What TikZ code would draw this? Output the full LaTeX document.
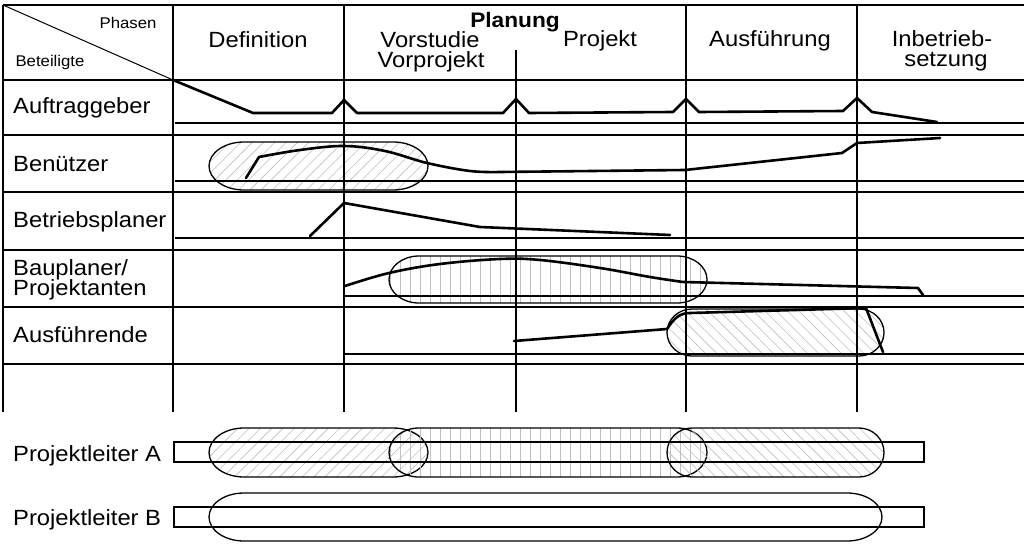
\documentclass[tikz,border=0pt]{standalone}
\usepackage{fontspec}
\setmainfont[FakeStretch=1.08]{Liberation Sans}
\usetikzlibrary{patterns.meta}
\newcommand{\stadium}[6][]{%
  % #1 style, #2 x left, #3 x right, #4 y top, #5 y bottom, #6 end radius (pt)
  \draw[oval,#1] ({#2+#6},#4) -- ({#3-#6},#4)
    arc[start angle=90,end angle=-90,x radius=#6pt,y radius={(#5-#4)/2*1pt}]
    -- ({#2+#6},#5)
    arc[start angle=270,end angle=90,x radius=#6pt,y radius={(#5-#4)/2*1pt}]
    -- cycle;}
\begin{document}
\begin{tikzpicture}[x=1pt,y=-1pt,
  gridl/.style={line width=1.4pt},
  basel/.style={line width=2.4pt},
  curvel/.style={line width=2.6pt,line join=round,line cap=round},
  oval/.style={line width=1.3pt},
  hatchne/.style={pattern={Lines[angle=45,distance=8pt,line width=0.6pt]},pattern color=gray!50},
  hatchnw/.style={pattern={Lines[angle=-45,distance=8pt,line width=0.6pt]},pattern color=gray!50},
  hatchv/.style={pattern={Lines[angle=90,distance=10pt,line width=0.6pt]},pattern color=gray!50},
  lbl/.style={font=\fontsize{22}{20}\selectfont,inner sep=0pt},
  small/.style={font=\fontsize{15.5}{15}\selectfont,inner sep=0pt},
  bar/.style={line width=2.3pt}]
\useasboundingbox (0,0) rectangle (1024,553);

% ---- ovals (drawn first, under the lines)
\stadium[hatchne]{209}{428}{142}{190}{35}
\stadium[hatchv]{389}{707}{256}{303}{30}
\stadium[hatchnw]{667}{884}{309}{356}{25}

% ---- grid
\draw[gridl] (3,5) -- (1024,5);
\draw[gridl] (3,5) -- (3,412);
\draw[gridl] (3,80) -- (1024,80);
\foreach \y in {135,192,250,307,364} \draw[gridl] (3,\y) -- (1024,\y);
\foreach \x in {173,344,686,857} \draw[gridl] (\x,5) -- (\x,412);
\draw[gridl] (516,50) -- (516,412);
\draw[line width=1pt] (3,5) -- (173,80);

% ---- baselines
\draw[basel] (175,123) -- (1024,123);
\draw[basel] (175,181) -- (1024,181);
\draw[basel] (175,238) -- (1024,238);
\draw[basel] (344,296) -- (1024,296);
\draw[basel] (344,354) -- (1024,354);

% ---- header texts
\node[small,anchor=base] (phasen) at (128,29) {Phasen};
\node[small,anchor=base] (beteil) at (50,67) {Beteiligte};
\node[lbl,anchor=base] (def) at (258,48) {Definition};
\node[lbl,anchor=base,font=\bfseries\fontsize{21}{20}\selectfont] (plan) at (515,28) {Planung};
\node[lbl,anchor=base] (vor1) at (430,48) {Vorstudie};
\node[lbl,anchor=base] (vor2) at (431,68) {Vorprojekt};
\node[lbl,anchor=base] (proj) at (600,47) {Projekt};
\node[lbl,anchor=base] (ausf) at (770,47) {Ausführung};
\node[lbl,anchor=base] (inb1) at (942,47) {Inbetrieb-};
\node[lbl,anchor=base] (inb2) at (946,67) {setzung};

% ---- row labels
\node[lbl,anchor=base west] (r1) at (13,114) {Auftraggeber};
\node[lbl,anchor=base west] (r2) at (13,172) {Benützer};
\node[lbl,anchor=base west] (r3) at (13,228) {Betriebsplaner};
\node[lbl,anchor=base west] (r4a) at (13,275) {Bauplaner/};
\node[lbl,anchor=base west] (r4b) at (13,295) {Projektanten};
\node[lbl,anchor=base west] (r5) at (13,342) {Ausführende};
\node[lbl,anchor=base west] (pa) at (13,461) {Projektleiter A};
\node[lbl,anchor=base west] (pb) at (13,525) {Projektleiter B};

% ---- involvement curves
\draw[curvel] (173,80) -- (253,113) -- (332,113) -- (344,100) -- (357,113)
  -- (503,113) -- (516,99) -- (529,113) -- (673,112) -- (686,99) -- (699,112)
  -- (843,111) -- (857,98) -- (872,112) -- (937,122);
\draw[curvel] (246,178) -- (259,157)
  plot[smooth,tension=0.6] coordinates {(259,157) (300,150) (344,146) (385,151) (427,163) (470,171) (500,172)}
  -- (685,170) -- (842,153) -- (857,143) -- (940,138);
\draw[curvel] (310,236) -- (344,203) -- (480,227) -- (670,235);
\draw[curvel] plot[smooth,tension=0.6] coordinates {(345,286) (389,273) (440,264) (500,259) (540,260) (600,268) (650,277) (683,282)}
  -- (918,288) -- (923,295);
\draw[curvel] (514,341) -- (667,329) .. controls (674,318) and (680,313) .. (690,313)
  -- (866,308) -- (883,352);

% ---- project leader bars
\stadium[hatchne]{209}{428}{428}{477}{35}
\stadium[hatchv]{389}{707}{428}{477}{30}
\stadium[hatchnw]{667}{884}{428}{477}{25}
\stadium{209}{882}{493}{541}{35}
\draw[bar] (174,442) rectangle (924,462);
\draw[bar] (174,507) rectangle (924,527);
\end{tikzpicture}
\end{document}
